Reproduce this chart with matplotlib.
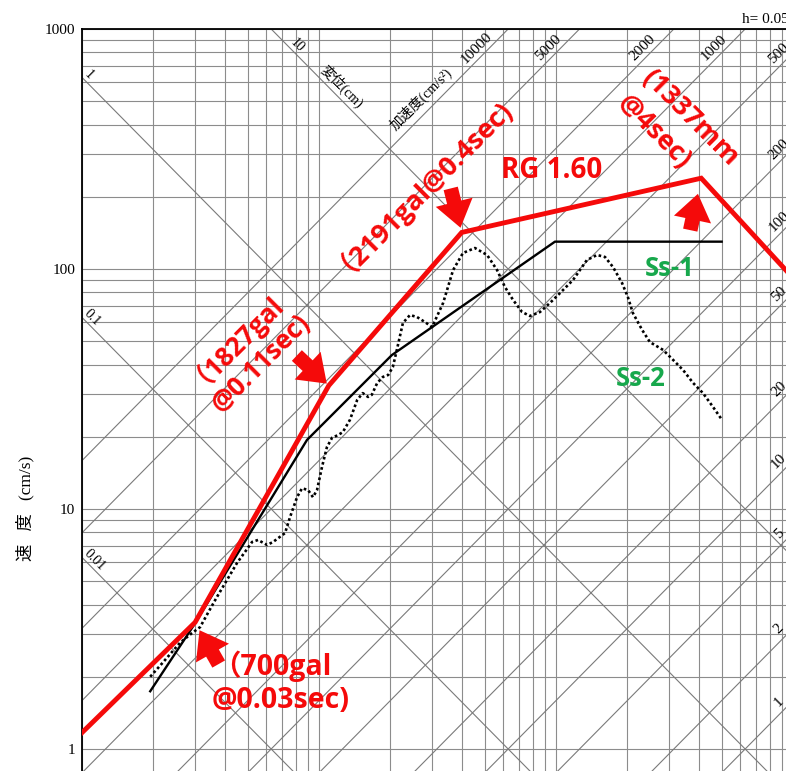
import numpy as np
import matplotlib
matplotlib.use('Agg')
import matplotlib.pyplot as plt

# ---- values: period (s) / pseudo velocity (cm/s) ----
rg_period = [0.01, 0.03, 0.11, 0.40, 4.1, 9.5]
rg_vel = [1.17, 3.37, 32.7, 142.0, 239.0, 97.0]

ss1_period = [0.0194, 0.0297, 0.089, 0.203, 0.99, 5.0]
ss1_vel = [1.74, 3.29, 19.4, 43.8, 130.0, 130.0]

ss2_period = [0.0194, 0.0220, 0.0259, 0.0291, 0.0315, 0.0340, 0.0371, 0.0409, 0.0451, 0.0487,
              0.0522, 0.0553, 0.0604, 0.0640, 0.0719, 0.0755, 0.0808, 0.0848, 0.0899, 0.0943,
              0.0981, 0.103, 0.108, 0.1135, 0.120, 0.126, 0.135, 0.145, 0.153, 0.161,
              0.167, 0.176, 0.186, 0.196, 0.205, 0.213, 0.226, 0.242, 0.259, 0.280,
              0.300, 0.334, 0.368, 0.405, 0.455, 0.512, 0.564, 0.609, 0.659, 0.719,
              0.777, 0.856, 0.943, 1.04, 1.18, 1.35, 1.49, 1.61, 1.74, 1.90,
              2.01, 2.11, 2.31, 2.49, 2.83, 3.12, 3.44, 3.79, 4.17, 4.60, 5.02]
ss2_vel = [2.00, 2.30, 2.77, 3.04, 3.22, 3.69, 4.30, 5.06, 5.96, 6.62,
           7.29, 7.43, 7.08, 7.29, 7.94, 9.26, 11.2, 12.2, 12.0, 11.2,
           12.0, 15.0, 18.1, 19.8, 20.3, 20.9, 23.5, 28.5, 30.4, 29.3,
           29.9, 33.5, 35.5, 36.2, 39.1, 46.0, 59.6, 64.3, 63.1, 60.1,
           57.3, 72.2, 99.0, 116.6, 122.3, 114.4, 99.0, 84.1, 74.3, 66.2,
           63.7, 66.2, 72.2, 79.4, 90.0, 109.0, 114.4, 112.2, 101.9, 87.4,
           76.4, 65.6, 55.7, 49.6, 46.0, 41.8, 37.9, 33.5, 30.4, 26.6, 23.5]

# tripartite grid
vel_ticks = [1, 10, 100, 1000]
period_decades = [0.01, 0.1, 1]
vel_decades = [1, 10, 100]
disp_lines = [0.01, 0.1, 1, 10]                 # cm
disp_label_period = [0.0113, 0.011, 0.0107, 0.0808]
disp_label_text = ['0.01', '0.1', '1', '10']
acc_lines = [1, 2, 5, 10, 20, 50, 100, 200, 500, 1000, 2000, 5000, 10000]   # cm/s2
acc_top_labels = [10000, 5000, 2000, 1000]
acc_side_labels = [500, 200, 100, 50, 20, 10, 5, 2, 1]

RED = '#f50a0a'
GREEN = '#17a84c'
GRID = '#8c8c8c'
SERIF = ['Liberation Serif', 'Noto Sans CJK JP']
BOLD = ['Open Sans', 'Noto Sans CJK JP']

W, H = 786, 771
fig = plt.figure(figsize=(W / 100, H / 100), dpi=100)
ax = fig.add_axes([82 / W, 0, 1 - 82 / W, 1 - 29 / H])
ax.set_xscale('log')
ax.set_yscale('log')
ax.set_xlim(0.01, 10 ** (704 / 237 - 2))
ax.set_ylim(10 ** (-22 / 240), 1000)


def px(x, y):
    return x / W, 1 - y / H


# rectangular grid
for d in period_decades:
    for m in range(1, 10):
        ax.axvline(d * m, color=GRID, lw=0.8, zorder=1)
for d in vel_decades:
    for m in range(1, 10):
        ax.axhline(d * m, color=GRID, lw=0.8, zorder=1)
ax.axhline(1000, color=GRID, lw=0.8, zorder=1)

# diagonal grid
t = np.logspace(-2.5, 1.5, 60)
for d in disp_lines:
    ax.plot(t, 2 * np.pi * d / t, color='#7a7a7a', lw=0.8, zorder=1)
for a in acc_lines:
    ax.plot(t, a * t / (2 * np.pi), color='#7a7a7a', lw=0.8, zorder=1)

for tp, s, d in zip(disp_label_period, disp_label_text, disp_lines):
    ax.annotate(s, (tp, 2 * np.pi * d / tp), xytext=(0, 7), textcoords='offset points',
                rotation=-45, ha='center', va='center', fontsize=10, family=SERIF)
ax.annotate('変位(cm)', (0.125, 2 * np.pi * 10 / 0.125), xytext=(0, 10),
            textcoords='offset points', rotation=-45, ha='center', va='center',
            fontsize=10, family=SERIF)

v0 = 736.0
for a in acc_top_labels:
    ax.annotate(str(a), (2 * np.pi * v0 / a, v0), xytext=(0, 9.5), textcoords='offset points',
                rotation=45, ha='center', va='center', fontsize=11, family=SERIF)
t0 = 8.73
for a in acc_side_labels:
    ax.annotate(str(a), (t0, a * t0 / (2 * np.pi)), xytext=(0, 9.5), textcoords='offset points',
                rotation=45, ha='center', va='center', fontsize=11, family=SERIF,
                annotation_clip=False)
ax.annotate('加速度(cm/s²)', (0.27, 10000 * 0.27 / (2 * np.pi)), xytext=(0, 13),
            textcoords='offset points', rotation=45, ha='center', va='center',
            fontsize=10, family=SERIF)

# spectra
ax.plot(ss1_period, ss1_vel, color='black', lw=1.7, zorder=3)
ax.plot(ss2_period, ss2_vel, color='black', lw=1.9, ls=(0, (1, 1.0)), zorder=3)
ax.plot(rg_period, rg_vel, color=RED, lw=3.5, zorder=4, solid_joinstyle='miter')

# arrows at the RG 1.60 control points
arrow_style = 'simple,head_length=0.9,head_width=1.3,tail_width=0.5'
arrow_offsets = [(17.0, -30.0, 6.5), (-23.0, 21.6, 2.0), (-7.9, 31.7, 3.5), (-7.9, -37.4, 11.5)]
for (dx, dy, sh), tp, vv in zip(arrow_offsets, rg_period[1:5], rg_vel[1:5]):
    ax.annotate('', (tp, vv), xytext=(dx, dy), textcoords='offset points', zorder=5,
                arrowprops=dict(arrowstyle=arrow_style, color=RED, lw=0,
                                shrinkA=0, shrinkB=sh, mutation_scale=21))

# spines and ticks
for s in ['right', 'bottom']:
    ax.spines[s].set_visible(False)
for s in ['left', 'top']:
    ax.spines[s].set_linewidth(1.3)
ax.set_yticks(vel_ticks)
ax.set_yticklabels([str(v) for v in vel_ticks], family=SERIF, fontsize=11)
ax.yaxis.set_minor_locator(matplotlib.ticker.NullLocator())
ax.xaxis.set_minor_locator(matplotlib.ticker.NullLocator())
ax.set_xticks([])
ax.tick_params(axis='y', length=0, pad=5)

# texts
fig.text(*px(25, 508), '速   度   (cm/s)', rotation=90, ha='center', va='center',
         fontsize=12.5, family=SERIF)
fig.text(*px(742, 23), 'h= 0.05', ha='left', va='baseline', fontsize=11, family=SERIF)

fig.text(*px(212, 683), '（700gal\n@0.03sec)', ha='left', va='center', fontsize=20.5,
         color=RED, weight='bold', family=BOLD, linespacing=1.2)
fig.text(*px(246, 348), '（1827gal\n@0.11sec)', ha='center', va='center', fontsize=19,
         color=RED, weight='bold', family=BOLD, rotation=45, rotation_mode='anchor',
         multialignment='left', linespacing=1.65)
fig.text(*px(416, 181), '（2191gal@0.4sec)', ha='center', va='center', fontsize=19.5,
         color=RED, weight='bold', family=BOLD, rotation=45, rotation_mode='anchor')
fig.text(*px(678, 131), '(1337mm\n@4sec)', ha='center', va='center', fontsize=19.5,
         color=RED, weight='bold', family=BOLD, rotation=-45, rotation_mode='anchor',
         multialignment='left', linespacing=1.45)
fig.text(*px(552, 170), 'RG 1.60', ha='center', va='center', fontsize=20,
         color=RED, weight='bold', family=BOLD)
fig.text(*px(670, 268), 'Ss-1', ha='center', va='center', fontsize=18.5,
         color=GREEN, weight='bold', family=BOLD)
fig.text(*px(641, 378), 'Ss-2', ha='center', va='center', fontsize=18.5,
         color=GREEN, weight='bold', family=BOLD)

fig.savefig('out.png', dpi=100, facecolor='white')
